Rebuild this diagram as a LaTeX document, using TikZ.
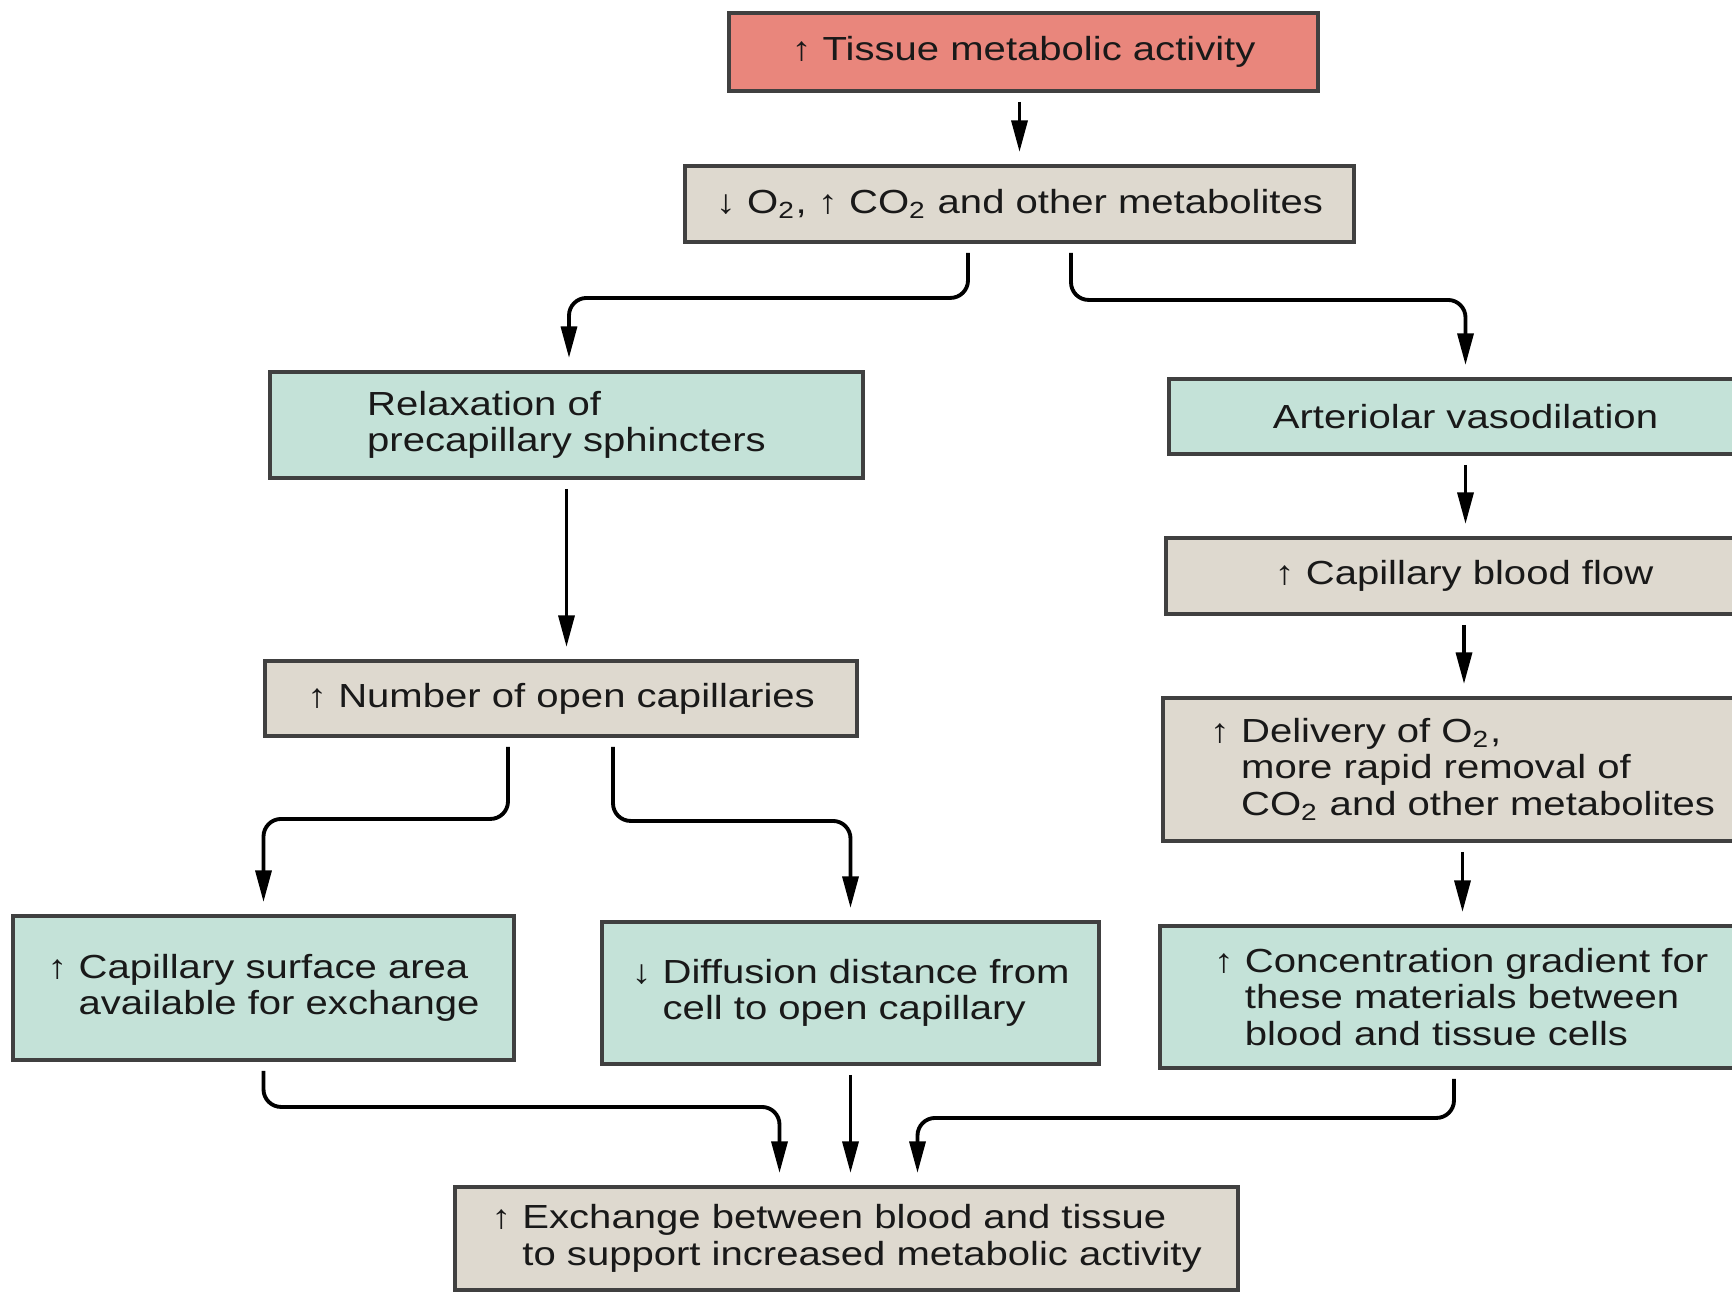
\documentclass[tikz,border=0pt]{standalone}
\usepackage{fontspec}
\setmainfont{Liberation Sans}[FakeStretch=1.2]
\usetikzlibrary{arrows.meta}

\definecolor{tissuered}{RGB}{233,134,124}
\definecolor{tealgreen}{RGB}{196,226,216}
\definecolor{sandgrey}{RGB}{222,217,207}
\newcommand{\arrowgap}{\hphantom{↑\ }}

\tikzset{
  box/.style={draw=black!75,line width=1.1pt,inner sep=2pt,align=left,
    text=black!90,font=\fontsize{9.5}{10.4}\selectfont},
  redbox/.style={box,fill=tissuered},
  greenbox/.style={box,fill=tealgreen},
  greybox/.style={box,fill=sandgrey},
}

\begin{document}
\begin{tikzpicture}[flow/.style={-{Triangle[length=9pt,width=4.5pt]},line width=1.1pt,
    shorten <=0.9mm,shorten >=1.2mm,rounded corners=5pt}]
 \clip (0,0) rectangle (17.32,-12.93);

 \node (node_tissue) at (10.235,-0.52) [redbox,minimum width=5.89cm,minimum height=0.78cm] {↑ Tissue metabolic activity};
 \node (node_metab) at (10.195,-2.04) [greybox,minimum width=6.69cm,minimum height=0.76cm] {↓ O\textsubscript{2}, ↑ CO\textsubscript{2} and other metabolites};
 \node (node_relax) at (5.665,-4.25) [greenbox,minimum width=5.93cm,minimum height=1.06cm] {Relaxation of\\precapillary sphincters};
 \node (node_arter) at (14.655,-4.165) [greenbox,minimum width=5.93cm,minimum height=0.75cm] {Arteriolar vasodilation};
 \node (node_flow) at (14.64,-5.76) [greybox,minimum width=5.96cm,minimum height=0.76cm] {↑ Capillary blood flow};
 \node (node_deliv) at (14.625,-7.695) [greybox,minimum width=5.99cm,minimum height=1.43cm] {↑ Delivery of O\textsubscript{2},\\\arrowgap more rapid removal of\\\arrowgap CO\textsubscript{2} and other metabolites};
 \node (node_number) at (5.61,-6.985) [greybox,minimum width=5.92cm,minimum height=0.75cm] {↑ Number of open capillaries};
 \node (node_surface) at (2.635,-9.88) [greenbox,minimum width=5.01cm,minimum height=1.44cm] {↑ Capillary surface area\\\arrowgap available for exchange};
 \node (node_diffus) at (8.505,-9.93) [greenbox,minimum width=4.97cm,minimum height=1.42cm] {↓ Diffusion distance from\\\arrowgap cell to open capillary};
 \node (node_conc) at (14.61,-9.97) [greenbox,minimum width=6.02cm,minimum height=1.42cm] {↑ Concentration gradient for\\\arrowgap these materials between\\\arrowgap blood and tissue cells};
 \node (node_exch) at (8.465,-12.385) [greybox,minimum width=7.83cm,minimum height=1.03cm] {↑ Exchange between blood and tissue\\\arrowgap to support increased metabolic activity};

 \draw [flow] (node_tissue.south -| node_metab.north) -- (node_metab.north);
 \draw [flow] ([xshift=-5.15mm]node_metab.south) -- ++(0,-0.54) -| ([xshift=0.25mm]node_relax.north);
 \draw [flow] ([xshift=5.15mm]node_metab.south) -- ++(0,-0.56) -| (node_arter.north);
 \draw [flow] (node_relax.south) -- (node_relax.south |- node_number.north);
 \draw [flow] (node_arter.south) -- (node_arter.south |- node_flow.north);
 \draw [flow] (node_flow.south) -- (node_flow.south |- node_deliv.north);
 \draw [flow] (node_deliv.south) -- (node_deliv.south |- node_conc.north);
 \draw [flow] ([xshift=-5.3mm]node_number.south) -- ++(0,-0.81) -| (node_surface.north);
 \draw [flow] ([xshift=5.2mm]node_number.south) -- ++(0,-0.83) -| (node_diffus.north);
 \draw [flow] (node_surface.south) -- ++(0,-0.45) -| ([xshift=-6.7mm]node_exch.north);
 \draw [flow] (node_diffus.south) -- (node_diffus.south |- node_exch.north);
 \draw [flow] ([xshift=-0.7mm]node_conc.south) -- ++(0,-0.48) -| ([xshift=7.1mm]node_exch.north);
\end{tikzpicture}
\end{document}
